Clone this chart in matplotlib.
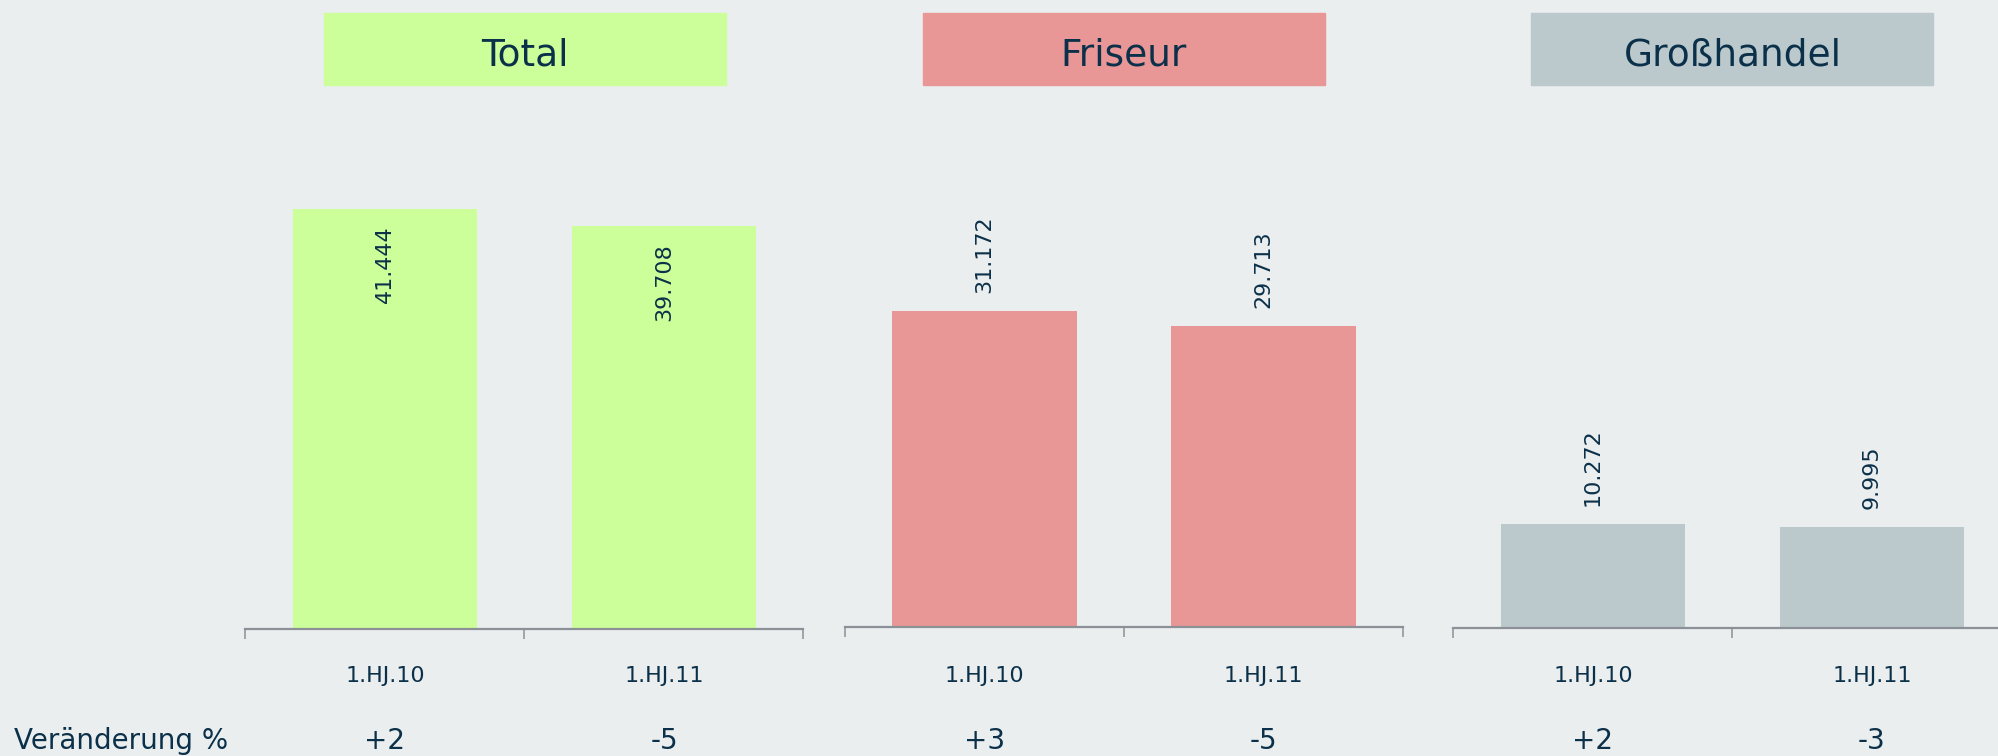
import matplotlib
matplotlib.use("Agg")
import matplotlib.pyplot as plt
import matplotlib.transforms as mtransforms
from matplotlib.patches import Rectangle

# data
panels = ["Total", "Friseur", "Großhandel"]
periods = ["1.HJ.10", "1.HJ.11"]
values = [[41.444, 39.708], [31.172, 29.713], [10.272, 9.995]]
changes = [["+2", "-5"], ["+3", "-5"], ["+2", "-3"]]
row_label = "Veränderung %"

colors = ["#CCFF99", "#E89696", "#BCC9CC"]
bg = "#EAEEEF"
txt = "#0B3049"
axc = "#8C9197"

W, H = 1999, 756
fig = plt.figure(figsize=(W / 100, H / 100), dpi=100, facecolor=bg)
plt.rcParams['font.family'] = ['DejaVu Sans']

def fx(px):
    return px / W

def fy(py):
    return 1 - py / H

lefts = [245.5, 845, 1453.5]
bases = [629, 627, 628]
aw = 558
ymax = 60
scale = 10.14  # px per unit
inside = [True, False, False]

for i, name in enumerate(panels):
    ah = ymax * scale
    ax = fig.add_axes([fx(lefts[i]), fy(bases[i]), aw / W, ah / H])
    ax.set_facecolor("none")
    x = list(range(len(periods)))
    ax.bar(x, values[i], width=0.66, color=colors[i])
    ax.set_xlim(-0.5, 1.5)
    ax.set_ylim(0, ymax)
    for s in ["top", "left", "right"]:
        ax.spines[s].set_visible(False)
    ax.spines["bottom"].set_color(axc)
    ax.spines["bottom"].set_linewidth(1.6)
    ax.set_yticks([])
    ax.set_xticks([-0.5, 0.5, 1.5])
    ax.set_xticklabels([])
    ax.tick_params(axis="x", direction="out", length=7, width=1.1, color=axc)

    tr = mtransforms.blended_transform_factory(ax.transData, fig.transFigure)
    for j, v in enumerate(values[i]):
        lab = f"{v:.3f}"
        if inside[i]:
            ax.annotate(lab, (j, v), xytext=(0, -12), textcoords="offset points",
                        rotation=90, ha="center", va="top", fontsize=16, color=txt)
        else:
            ax.annotate(lab, (j, v), xytext=(0, 13), textcoords="offset points",
                        rotation=90, ha="center", va="bottom", fontsize=16, color=txt)
        ax.text(j, fy(682), periods[j], transform=tr, ha="center", va="baseline",
                fontsize=16, color=txt)
        ax.text(j, fy(749), changes[i][j], transform=tr, ha="center", va="baseline",
                fontsize=20, color=txt)

    # title box
    cx = lefts[i] + aw / 2
    fig.patches.append(Rectangle((fx(cx - 201), fy(85)), 402 / W, 72 / H,
                                 transform=fig.transFigure, color=colors[i], zorder=0))
    fig.text(fx(cx), fy(65.5), name, ha="center", va="baseline", fontsize=27, color=txt)

fig.text(fx(14), fy(749), row_label, ha="left", va="baseline", fontsize=20, color=txt)

fig.savefig("out.png", dpi=100, facecolor=bg)
